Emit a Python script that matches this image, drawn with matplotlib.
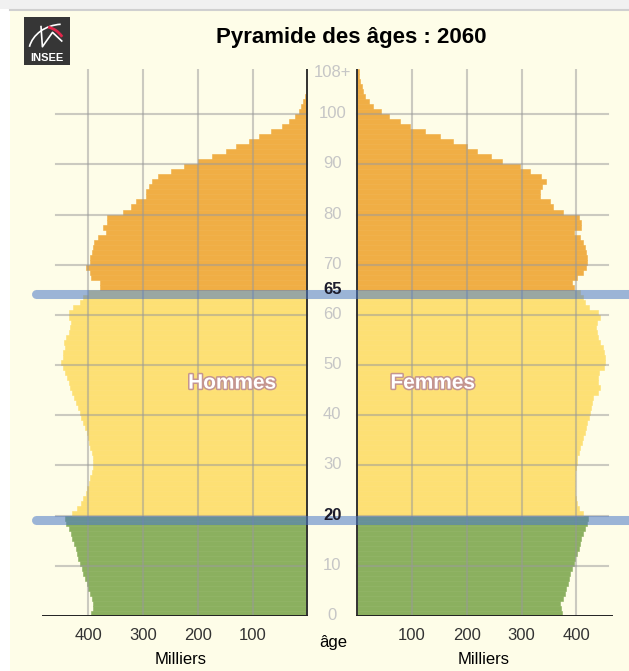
import numpy as np
import matplotlib
matplotlib.use('Agg')
import matplotlib.pyplot as plt
import matplotlib.patheffects as pe
from matplotlib.patches import Rectangle, Arc
from matplotlib.lines import Line2D

plt.rcParams['font.family'] = ['Liberation Sans', 'DejaVu Sans']

ages = np.arange(0, 109)
hommes = [395, 391, 391, 394, 397, 400, 403, 406, 409, 412,
          415, 418, 420, 423, 426, 429, 432, 436, 441, 443,
          430, 421, 414, 409, 405, 402, 399, 397, 394, 392,
          391, 392, 394, 396, 398, 400, 403, 406, 409, 413,
          416, 419, 423, 426, 429, 433, 436, 439, 443, 447,
          449, 446, 446, 443, 444, 441, 436, 433, 432, 435,
          436, 427, 416, 409, 400, 379, 379, 395, 397, 404,
          396, 396, 394, 392, 390, 382, 368, 373, 365, 365,
          336, 322, 313, 295, 295, 289, 284, 272, 249, 225,
          199, 174, 148, 130, 107, 88, 66, 47, 33, 23,
          16, 11, 7, 4, 3, 2, 1.5, 1, 1]
femmes = [374, 372, 371, 376, 379, 381, 384, 387, 389, 392,
          395, 398, 401, 404, 406, 409, 412, 416, 419, 422,
          413, 405, 401, 399, 398, 398, 397, 397, 398, 399,
          401, 402, 404, 407, 410, 413, 416, 418, 420, 423,
          425, 427, 429, 431, 440, 443, 440, 440, 442, 450,
          452, 452, 450, 448, 444, 440, 437, 436, 437, 444,
          440, 424, 416, 412, 407, 395, 393, 401, 413, 418,
          419, 420, 418, 416, 413, 406, 395, 408, 408, 404,
          375, 358, 352, 334, 334, 337, 345, 335, 315, 297,
          265, 245, 218, 200, 174, 151, 124, 96, 78, 58,
          44, 29, 21, 14, 11, 8, 5, 3, 3]

age_ticks = [0, 10, 30, 40, 50, 60, 70, 80, 90, 100]
grid_ages = [10, 20, 30, 40, 50, 60, 70, 80, 90, 100]
seuils = [20, 65]
value_ticks = [100, 200, 300, 400]
titre = 'Pyramide des âges : 2060'

W, H = 629, 671
PX = 0.5475      # pixels per thousand
GAP = 45.7       # half width of the middle age column (thousands)
cream = '#fefde8'
c_jeunes, c_actifs, c_seniors = '#8bb05f', '#fde074', '#f0ae45'


def fx(px):
    return px / W


def fy(py):
    return 1 - py / H


fig = plt.figure(figsize=(W / 100, H / 100), dpi=100, facecolor='white')
fig.patches.append(Rectangle((0, fy(9)), 1, 1 - fy(9), transform=fig.transFigure,
                             facecolor='#f1f1f1', edgecolor='none', zorder=-6))
fig.patches.append(Rectangle((fx(10), 0), 1 - fx(10), fy(11), transform=fig.transFigure,
                             facecolor=cream, edgecolor='none', zorder=-5))
fig.add_artist(Line2D([fx(10), 1], [fy(10), fy(10)], color='#d0d0d0', lw=1.5, zorder=-4))

ax = fig.add_axes([fx(30), fy(616), 1 - fx(30), (616 - 69) / H])
ax.set_facecolor('none')
ax.set_xlim((30 - 332.3) / PX, (629 - 332.3) / PX)
ax.set_ylim(0, 109)
for s in ax.spines.values():
    s.set_visible(False)

cols = [c_jeunes if a < seuils[0] else (c_actifs if a < seuils[1] else c_seniors) for a in ages]
ax.barh(ages, -np.array(hommes), left=-GAP, height=1, align='edge', color=cols,
        edgecolor=cols, linewidth=0.4, zorder=2)
ax.barh(ages, femmes, left=GAP, height=1, align='edge', color=cols,
        edgecolor=cols, linewidth=0.4, zorder=2)

# grid
gkw = dict(color='#999999', alpha=0.5, lw=1.5, zorder=3)
for v in value_ticks:
    ax.plot([-GAP - v, -GAP - v], [0, 109], **gkw)
    ax.plot([GAP + v, GAP + v], [0, 109], **gkw)
for a in grid_ages:
    ax.plot([-GAP - 459, -GAP], [a, a], **gkw)
    ax.plot([GAP, GAP + 458], [a, a], **gkw)

# axes lines
ax.plot([-GAP, -GAP], [0, 109], color='#333333', lw=1.4, zorder=4)
ax.plot([GAP, GAP], [0, 109], color='#333333', lw=1.4, zorder=4)
ax.plot([-GAP - 483, -GAP], [0, 0], color='#222222', lw=1.4, zorder=4)
ax.plot([GAP, GAP + 465], [0, 0], color='#222222', lw=1.4, zorder=4)

# 20 / 65 markers
for s in seuils:
    ax.plot([(36 - 332.3) / PX, 700], [s - 0.9, s - 0.9], color='#4a78c8', alpha=0.55,
            lw=6.5, solid_capstyle='round', zorder=5)
    ax.text(0, s + 0.05, str(s), ha='center', va='center', fontsize=12,
            fontweight='bold', color='#1c1c2c', zorder=6)

# age labels
for a in age_ticks:
    ax.text(0, a + 0.1, str(a), ha='center', va='center', fontsize=12, color='#c6c6c6')
ax.text(0, ages[-1] + 0.4, '108+', ha='center', va='center', fontsize=12, color='#c6c6c6')

ax.set_yticks([])
ax.set_xticks([-GAP - v for v in value_ticks] + [GAP + v for v in value_ticks])
ax.set_xticklabels([str(v) for v in value_ticks] + [str(v) for v in value_ticks])
ax.tick_params(axis='x', length=0, pad=9, labelsize=12, labelcolor='#333333')

fx_outline = [pe.Stroke(linewidth=2.2, foreground='#c49590'), pe.Normal()]
ax.text(-GAP - 137, 46.4, 'Hommes', ha='center', va='center', fontsize=15,
        fontweight='bold', color='white', path_effects=fx_outline, zorder=6)
ax.text(GAP + 138, 46.4, 'Femmes', ha='center', va='center', fontsize=15,
        fontweight='bold', color='white', path_effects=fx_outline, zorder=6)

fig.text(fx(181), fy(660), 'Milliers', ha='center', va='center', fontsize=12)
fig.text(fx(484), fy(660), 'Milliers', ha='center', va='center', fontsize=12)
fig.text(fx(333), fy(643), 'âge', ha='center', va='center', fontsize=12)
fig.text(fx(351.5), fy(38), titre, ha='center', va='center', fontsize=16, fontweight='bold')

# INSEE logo
lg = fig.add_axes([fx(24), fy(65), fx(46), 48 / H])
lg.set_facecolor('#363636')
lg.set_xlim(0, 1)
lg.set_ylim(0, 1)
lg.set_xticks([])
lg.set_yticks([])
for s in lg.spines.values():
    s.set_visible(False)
lg.add_patch(Arc((0.85, 0.25), 1.5, 1.2, theta1=95, theta2=170, color='white', lw=1.2, clip_on=False))
lg.plot([0.37, 0.4, 0.62, 0.82], [0.8, 0.38, 0.68, 0.5], color='white', lw=1.2)
lg.add_patch(Arc((0.42, 0.3), 1.0, 1.0, theta1=35, theta2=78, color='#e0264a', lw=2))
lg.text(0.5, 0.14, 'INSEE', ha='center', va='center', color='white', fontsize=8, fontweight='bold')

fig.savefig('out.png', dpi=100, facecolor=fig.get_facecolor())
